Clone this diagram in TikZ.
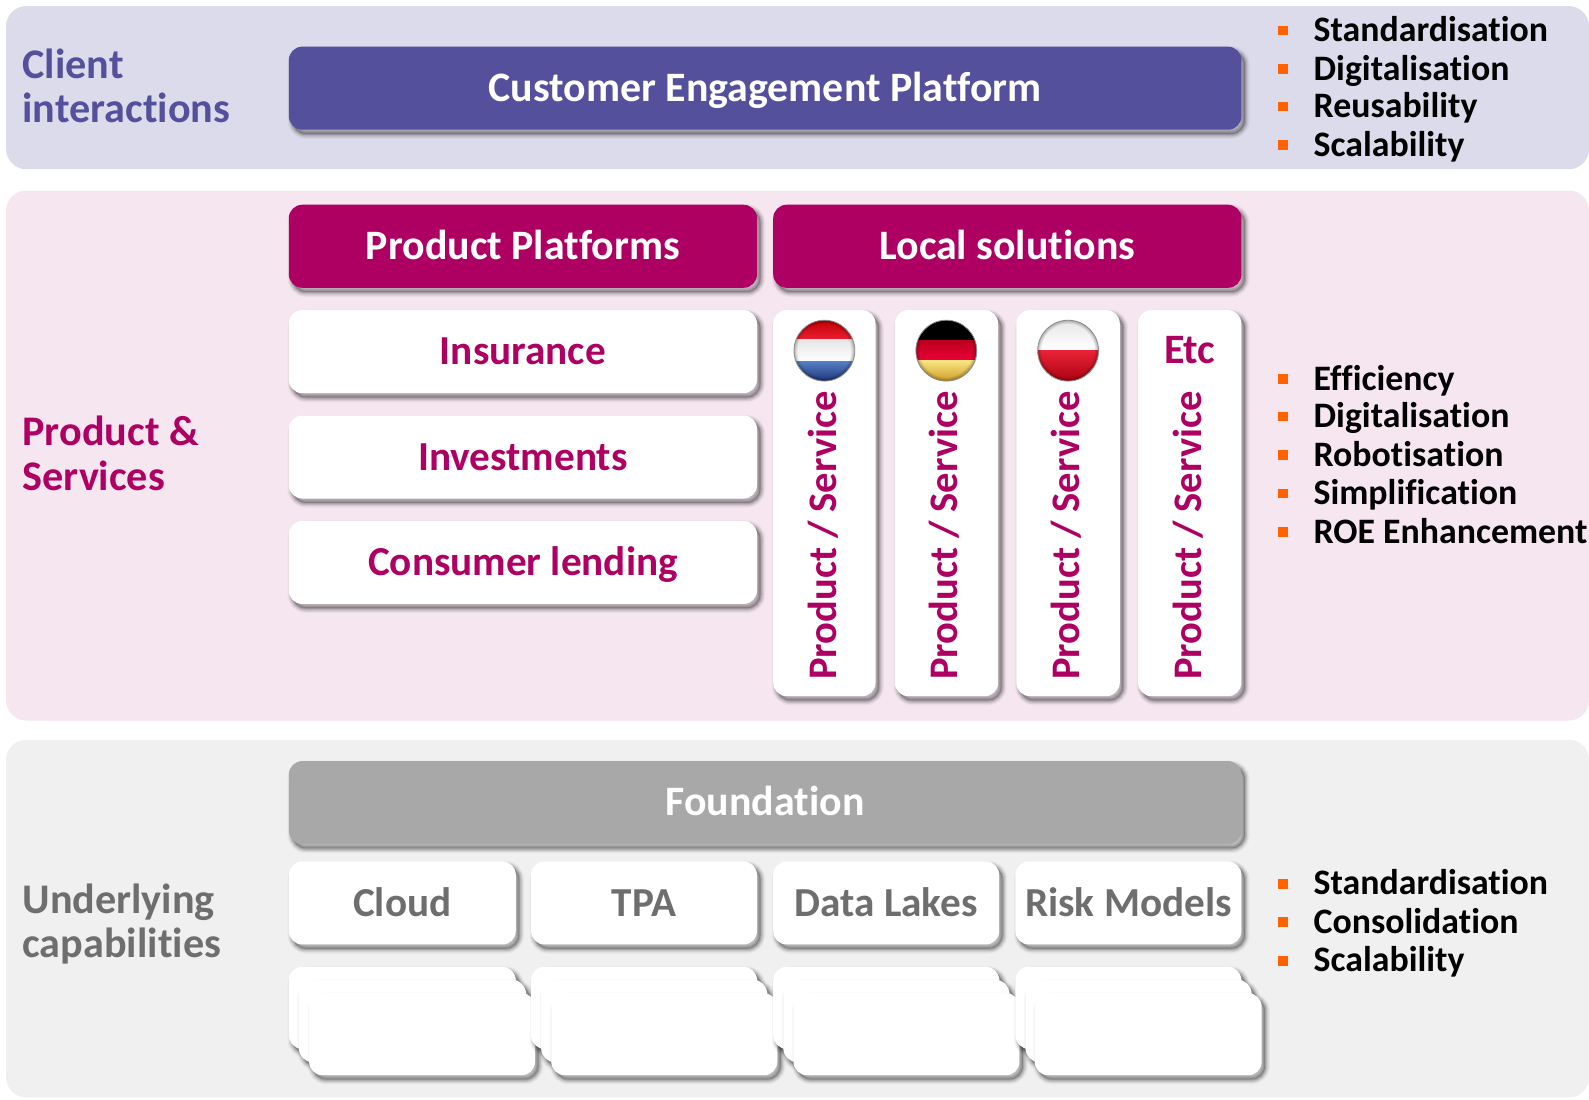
\documentclass[tikz,border=0pt]{standalone}
\usepackage{fontspec}
\setmainfont{Carlito}[Ligatures={NoCommon,NoRequired,NoContextual}]
\definecolor{bandA}{HTML}{DCDBEB}
\definecolor{bandB}{HTML}{F5E6F0}
\definecolor{bandC}{HTML}{F0F0F0}
\definecolor{indigo}{HTML}{55509B}
\definecolor{magenta}{HTML}{AE0062}
\definecolor{found}{HTML}{A8A8A8}
\definecolor{graytxt}{HTML}{6E6E6E}
\definecolor{bulletc}{HTML}{FF6200}
\newcommand{\fs}[1]{\fontsize{#1}{#1}\selectfont\bfseries}
\tikzset{
  softshadow/.style={
    preaction={draw=black,line width=7pt,opacity=.04,line join=round,transform canvas={shift={(2.6pt,-3.2pt)}}},
    preaction={draw=black,line width=5.2pt,opacity=.07,line join=round,transform canvas={shift={(2.6pt,-3.2pt)}}},
    preaction={draw=black,line width=3.4pt,opacity=.1,line join=round,transform canvas={shift={(2.6pt,-3.2pt)}}},
    preaction={draw=black,line width=1.6pt,opacity=.13,line join=round,transform canvas={shift={(2.6pt,-3.2pt)}}},
    preaction={fill=black,opacity=.2,transform canvas={shift={(2.6pt,-3.2pt)}}}},
  band/.style={rounded corners=15pt,inner sep=0pt,outer sep=0pt,anchor=center},
  card/.style={softshadow,rounded corners=10pt,inner sep=0pt,outer sep=0pt,anchor=center,text height=19.5pt,text depth=0pt},
  whitecard/.style={card,fill=white,text=magenta,font=\fs{30.5}},
  graycard/.style={card,fill=white,text=graytxt,font=\fs{30.5}},
  blank/.style={card,fill=white},
  head/.style={card,text=white,font=\fs{31}},
  sidelabel/.style={anchor=base west,align=left,inner sep=0pt,font=\fs{31.2}},
  bullettext/.style={anchor=base west,inner sep=0pt,text=black,font=\fs{26.5}},
  bulletmark/.style={fill=bulletc,minimum size=7.2pt,inner sep=0pt,anchor=center},
  vert/.style={rotate=90,anchor=base west,inner sep=0pt,text=magenta,font=\fs{30}},
  flagrim/.style={draw=black!45,line width=.6pt},
  ring/.style={draw=black,opacity=.09}
}
% name, x1, y1, x2, y2, style, text
\newcommand{\bx}[7]{%
  \pgfmathsetmacro{\bw}{(#4-#2)*.75}\pgfmathsetmacro{\bh}{(#5-#3)*.75}%
  \node[#6,minimum width=\bw pt,minimum height=\bh pt] (#1) at ({(#2+#4)/2},{(#3+#5)/2}) {#7};}
\newcommand{\bul}[3]{%
  \node[bulletmark] (#1m) at (1266,#2) {};
  \node[bullettext] (#1t) at (1296,#2+11) {#3};}
\newcommand{\flagrings}[1]{%
  \draw[ring,line width=1.5pt] (#1,346) circle[radius=22.5pt];
  \draw[ring,line width=3pt] (#1,346) circle[radius=22.5pt];
  \draw[ring,line width=5pt] (#1,346) circle[radius=22.5pt];}
\begin{document}
\begin{tikzpicture}[x=.75pt,y=-.75pt]
\useasboundingbox (0,0) rectangle (1568,1084.5);
\fill[white] (0,0) rectangle (1568,1084.5);
% bands
\bx{bandone}{6}{6}{1568}{167}{band,fill=bandA}{}
\bx{bandtwo}{6}{188}{1568}{711}{band,fill=bandB}{}
\bx{bandthree}{6}{730}{1568}{1083}{band,fill=bandC}{}
% side labels
\node[sidelabel,text=indigo] (lclient) at (22,77) {Client};
\node[sidelabel,text=indigo] (lclienttwo) at (22,121) {interactions};
\node[sidelabel,text=magenta] (lprod) at (22,440) {Product \&};
\node[sidelabel,text=magenta] (lprodtwo) at (22,484) {Services};
\node[sidelabel,text=graytxt] (lund) at (22,901) {Underlying};
\node[sidelabel,text=graytxt] (lundtwo) at (22,945) {capabilities};
% headers
\bx{cep}{285}{46}{1225}{128}{head,fill=indigo}{Customer Engagement Platform}
\bx{pp}{285}{202}{747}{284}{head,fill=magenta}{Product Platforms}
\bx{ls}{763}{202}{1225}{284}{head,fill=magenta}{Local solutions}
\bx{ins}{285}{306}{747}{388}{whitecard}{Insurance}
\bx{inv}{285}{410}{747}{492}{whitecard}{Investments}
\bx{con}{285}{514}{747}{596}{whitecard}{Consumer lending}
% local columns
\bx{ca}{763}{306}{864}{687}{card,fill=white}{}
\bx{cb}{883}{306}{985}{687}{card,fill=white}{}
\bx{cc}{1003}{306}{1105}{687}{card,fill=white}{}
\bx{cd}{1123}{306}{1225}{687}{card,fill=white}{}
\node[vert] (va) at (825,671) {Product / Service};
\node[vert] (vb) at (945,671) {Product / Service};
\node[vert] (vc) at (1065.5,671) {Product / Service};
\node[vert] (vd) at (1185.5,671) {Product / Service};
\node[inner sep=0pt,text=magenta,font=\fs{31}] (etc) at (1174,345) {Etc};
% flags
\begin{scope}
\path[clip] (813.5,346) circle[radius=22.5pt];
\shade[top color=red!75!black,bottom color={rgb,255:red,235;green,30;blue,50}] (780,315) rectangle (850,335);
\shade[top color=white!90!black,bottom color=white] (780,335) rectangle (850,357);
\shade[top color={rgb,255:red,85;green,125;blue,195},bottom color={rgb,255:red,25;green,45;blue,115}] (780,357) rectangle (850,378);
\flagrings{813.5}
\end{scope}
\draw[flagrim] (813.5,346) circle[radius=22.5pt];
\begin{scope}
\path[clip] (933.8,346) circle[radius=22.5pt];
\fill[black] (900,315) rectangle (970,336);
\shade[top color={rgb,255:red,190;green,0;blue,30},bottom color={rgb,255:red,235;green,0;blue,55}] (900,336) rectangle (970,356);
\shade[top color={rgb,255:red,248;green,228;blue,130},bottom color={rgb,255:red,205;green,150;blue,30}] (900,356) rectangle (970,378);
\flagrings{933.8}
\end{scope}
\draw[flagrim] (933.8,346) circle[radius=22.5pt];
\begin{scope}
\path[clip] (1054,346) circle[radius=22.5pt];
\shade[top color=white!90!black,bottom color=white] (1020,315) rectangle (1090,345.5);
\shade[top color={rgb,255:red,235;green,35;blue,55},bottom color={rgb,255:red,165;green,0;blue,15}] (1020,345.5) rectangle (1090,378);
\flagrings{1054}
\end{scope}
\draw[flagrim] (1054,346) circle[radius=22.5pt];
% foundation
\bx{fnd}{285}{751}{1225}{833}{head,fill=found}{Foundation}
\bx{cloud}{285}{850}{509}{932}{graycard}{Cloud}
\bx{tpa}{524}{850}{747}{932}{graycard}{TPA}
\bx{lakes}{763}{850}{986}{932}{graycard}{Data Lakes}
\bx{risk}{1002}{850}{1225}{932}{graycard}{Risk Models}
% stacks
\bx{sa}{285}{954}{509}{1035}{blank}{}
\bx{sb}{295}{967}{519}{1048}{blank}{}
\bx{sc}{305}{980}{528}{1061}{blank}{}
\bx{ta}{524}{954}{747}{1035}{blank}{}
\bx{tb}{534}{967}{757}{1048}{blank}{}
\bx{tc}{544}{980}{767}{1061}{blank}{}
\bx{ua}{763}{954}{986}{1035}{blank}{}
\bx{ub}{773}{967}{996}{1048}{blank}{}
\bx{uc}{783}{980}{1006}{1061}{blank}{}
\bx{wa}{1002}{954}{1225}{1035}{blank}{}
\bx{wb}{1012}{967}{1235}{1048}{blank}{}
\bx{wc}{1021}{980}{1245}{1061}{blank}{}
% bullets
\bul{a1}{30}{Standardisation}
\bul{a2}{68}{Digitalisation}
\bul{a3}{105}{Reusability}
\bul{a4}{143}{Scalability}
\bul{b1}{374}{Efficiency}
\bul{b2}{411}{Digitalisation}
\bul{b3}{449}{Robotisation}
\bul{b4}{487}{Simplification}
\bul{b5}{525}{ROE Enhancement}
\bul{c1}{872}{Standardisation}
\bul{c2}{910}{Consolidation}
\bul{c3}{948}{Scalability}
\end{tikzpicture}
\end{document}
